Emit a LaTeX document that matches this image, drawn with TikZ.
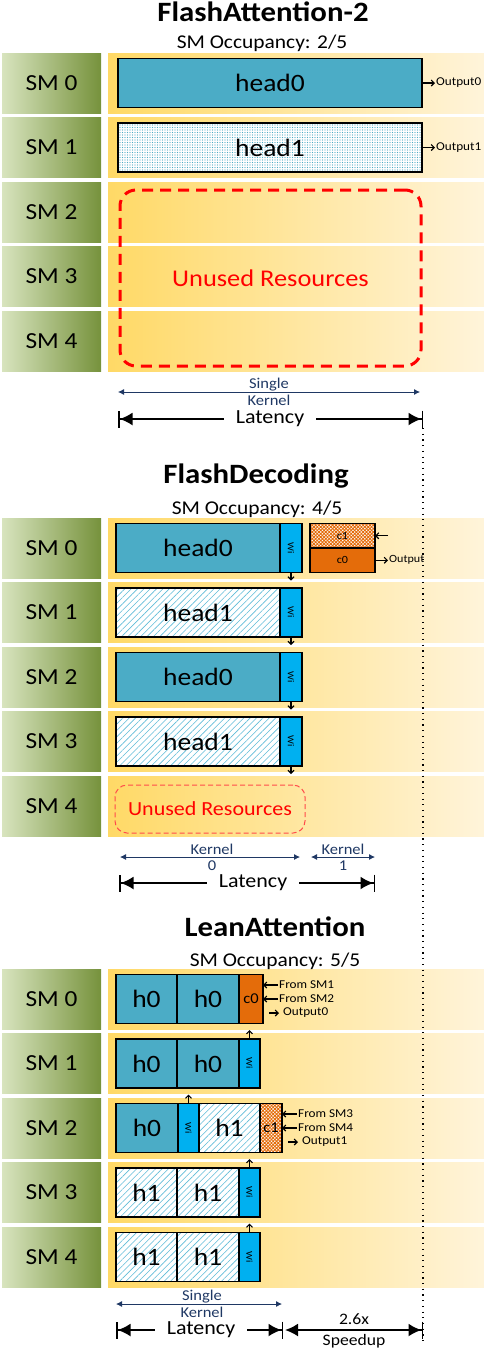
\documentclass[tikz,border=0pt]{standalone}
\usepackage{fontspec}
\setmainfont{Carlito}[FakeStretch=1.1]
\usepackage{graphicx}
\usetikzlibrary{arrows.meta}
\usetikzlibrary{patterns}
\usetikzlibrary{patterns.meta}
\usetikzlibrary{positioning}

\definecolor{headblue}{HTML}{4BACC6}
\definecolor{hatchblue}{HTML}{5FBCD8}
\definecolor{wblue}{HTML}{00B0F0}
\definecolor{corange}{HTML}{E46C0A}
\definecolor{smlight}{HTML}{D8E4BE}
\definecolor{smdark}{HTML}{76923C}
\definecolor{bandl}{HTML}{FFD966}
\definecolor{bandr}{HTML}{FFF4DA}
\definecolor{dimnavy}{HTML}{1F3864}
\definecolor{unusedred}{HTML}{FF0000}
\definecolor{unusedlight}{HTML}{FF4B4B}

\newcommand{\fsz}[1]{\fontsize{#1}{#1}\selectfont}
\newcommand{\wlbl}{\rotatebox{-90}{Wi}}

\tikzset{
  smlabel/.style={anchor=north west,minimum width=99pt,minimum height=60pt,inner sep=0pt,outer sep=0pt,
    left color=smlight,right color=smdark,font=\fsz{23}},
  blk/.style={anchor=west,draw=black,line width=1.5pt,minimum height=49pt,inner sep=0pt,outer sep=0pt},
  headblk/.style={blk,fill=headblue,font=\fsz{25}},
  dotblk/.style={blk,preaction={fill=white},pattern={Dots[distance=2.5pt,radius=0.7pt]},
    pattern color=headblue,font=\fsz{25}},
  hatchblk/.style={blk,preaction={fill=white},pattern={Lines[angle=45,distance=4.5pt,line width=0.6pt]},
    pattern color=hatchblue,font=\fsz{25}},
  wblk/.style={blk,fill=wblue,minimum width=22pt,font=\fsz{9}},
  cblk/.style={blk,fill=corange,font=\fsz{15}},
  chkblk/.style={blk,preaction={fill=white},pattern={Hatch[angle=45,distance=2.4pt,line width=0.9pt]},
    pattern color=corange,font=\fsz{15}},
  unusedbig/.style={draw=unusedred,line width=3pt,dash pattern=on 11pt off 7pt,rounded corners=16pt,
    text=unusedred,font=\fsz{24},inner sep=0pt},
  unusedsmall/.style={draw=unusedlight,line width=1pt,dash pattern=on 5pt off 3pt,rounded corners=12pt,
    text=unusedred,font=\fsz{20},inner sep=0pt},
  titlelbl/.style={anchor=base,font=\bfseries\fsz{28},inner sep=0pt},
  occlbl/.style={anchor=base,font=\fsz{19.5},inner sep=0pt},
  outlbl/.style={inner sep=1pt,font=\fsz{12}},
  fromlbl/.style={anchor=west,inner sep=1pt,font=\fsz{12}},
  outarrow/.style={-{Straight Barb[length=3pt,width=6pt]},line width=1.1pt},
  dimarrow/.style={{Latex[length=6pt,width=6pt]}-{Latex[length=6pt,width=6pt]},draw=dimnavy,line width=0.8pt},
  dimlbl/.style={align=center,text=dimnavy,font=\fontsize{15}{17}\selectfont,inner sep=0pt},
  latarrow/.style={{Bar[width=17pt,line width=1.5pt]Latex[length=13pt,width=13pt]}-{Latex[length=13pt,width=13pt]Bar[width=17pt,line width=1.5pt]},line width=2pt},
  latlbl/.style={fill=white,inner xsep=12pt,inner ysep=1pt,font=\fsz{20}},
  dotline/.style={line width=1.2pt,dash pattern=on 1.2pt off 4.5pt}
}

\begin{document}
\begin{tikzpicture}[x=1pt,y=-1pt]
\useasboundingbox (0,0) rectangle (484,1350);

% SM rows of the three schemes
\foreach \sec/\rtop in {fa/53,fd/518,la/969}{
  \foreach \i in {0,...,4}{
    \fill[left color=bandl,right color=bandr] (108,\rtop+64.5*\i) rectangle (484,\rtop+64.5*\i+60);
    \node[smlabel] (\sec-sm\i) at (2,\rtop+64.5*\i) {SM \i};
    \coordinate (\sec-r\i) at (0,\rtop+64.5*\i+30);
  }
}

% common end of the slowest latency
\coordinate (vtop) at (423,428);
\coordinate (vbot) at (423,1345);
\draw[dotline] (vtop) -- (vbot);

% FlashAttention-2
\node[titlelbl] (fa-title) at (263,21.5) {FlashAttention-2};
\node[occlbl] (fa-occ) at (262,48) {SM Occupancy: 2/5};
\node[headblk,minimum width=304pt] (fa-h0) at ([xshift=118pt]fa-r0) {head0};
\node[dotblk,minimum width=304pt] (fa-h1) at ([xshift=118pt]fa-r1) {head1};
\node[outlbl,right=13pt of fa-h0] (fa-o0) {Output0};
\node[outlbl,right=13pt of fa-h1] (fa-o1) {Output1};
\draw[outarrow] (fa-h0) -- (fa-o0);
\draw[outarrow] (fa-h1) -- (fa-o1);
\node[unusedbig,minimum width=301pt,minimum height=176pt] (fa-unused) at (270.5,278) {Unused Resources};

\coordinate (fa-kl) at (118,392);
\coordinate (fa-kr) at (420,392);
\draw[dimarrow] (fa-kl) -- (fa-kr);
\node[dimlbl] (fa-klbl) at (269,392) {Single\\Kernel};
\coordinate (fa-ll) at (118,419);
\coordinate (fa-lr) at (423,419);
\draw[latarrow] (fa-ll) -- (fa-lr);
\node[latlbl] (fa-lat) at (270,419) {Latency};

% FlashDecoding
\node[titlelbl] (fd-title) at (256,483) {FlashDecoding};
\node[occlbl] (fd-occ) at (257,514) {SM Occupancy: 4/5};
\foreach \i/\sty/\txt in {0/headblk/head0,1/hatchblk/head1,2/headblk/head0,3/hatchblk/head1}{
  \node[\sty,minimum width=164pt] (fd-h\i) at ([xshift=116pt]fd-r\i) {\txt};
  \node[wblk,right=0pt of fd-h\i] (fd-w\i) {\wlbl};
  \draw[outarrow] (fd-w\i.south) -- ++(0,8);
}
\node[chkblk,anchor=south west,minimum width=65pt,minimum height=24.5pt,font=\fsz{11}] (fd-c1) at ([xshift=310pt]fd-r0) {c1};
\node[cblk,below=0pt of fd-c1,minimum width=65pt,minimum height=24.5pt,font=\fsz{11}] (fd-c0) {c0};
\coordinate[right=13pt of fd-c1] (fd-cin);
\draw[outarrow] (fd-cin) -- (fd-c1);
\node[outlbl,right=13pt of fd-c0,font=\fsz{11}] (fd-out) {Output};
\draw[outarrow] (fd-c0) -- (fd-out);
\node[unusedsmall,minimum width=190pt,minimum height=48pt] (fd-unused) at (210,809) {Unused Resources};

\coordinate (fd-k0l) at (120,857);
\coordinate (fd-k0r) at (300,857);
\draw[dimarrow] (fd-k0l) -- (fd-k0r);
\node[dimlbl,font=\fontsize{15}{16}\selectfont] (fd-k0lbl) at (212,857) {Kernel\\0};
\coordinate (fd-k1l) at (311,857);
\coordinate (fd-k1r) at (375,857);
\draw[dimarrow] (fd-k1l) -- (fd-k1r);
\node[dimlbl,font=\fontsize{15}{16}\selectfont] (fd-k1lbl) at (343,857) {Kernel\\1};
\coordinate (fd-ll) at (119,883);
\coordinate (fd-lr) at (375,883);
\draw[latarrow] (fd-ll) -- (fd-lr);
\node[latlbl] (fd-lat) at (253,883) {Latency};

% LeanAttention
\node[titlelbl] (la-title) at (275,936) {LeanAttention};
\node[occlbl] (la-occ) at (275,966) {SM Occupancy: 5/5};
\node[headblk,minimum width=61pt] (la-a0) at ([xshift=116pt]la-r0) {h0};
\node[headblk,minimum width=62pt,right=0pt of la-a0] (la-b0) {h0};
\node[cblk,minimum width=24pt,right=0pt of la-b0] (la-c0) {c0};
\foreach \i/\sty/\txt in {1/headblk/h0,3/hatchblk/h1,4/hatchblk/h1}{
  \node[\sty,minimum width=61pt] (la-a\i) at ([xshift=116pt]la-r\i) {\txt};
  \node[\sty,minimum width=62pt,right=0pt of la-a\i] (la-b\i) {\txt};
  \node[wblk,minimum width=21pt,right=0pt of la-b\i] (la-w\i) {\wlbl};
  \draw[outarrow] (la-w\i.north) -- ++(0,-9);
}
\node[headblk,minimum width=62pt] (la-a2) at ([xshift=116pt]la-r2) {h0};
\node[wblk,minimum width=21pt,right=0pt of la-a2] (la-w2) {\wlbl};
\node[hatchblk,minimum width=61pt,right=0pt of la-w2] (la-b2) {h1};
\node[chkblk,minimum width=22pt,right=0pt of la-b2] (la-c2) {c1};
\draw[outarrow] (la-w2.north) -- ++(0,-9);

\node[fromlbl] (la-f1) at ([xshift=15pt,yshift=14pt]la-c0.east) {From SM1};
\node[fromlbl] (la-f2) at ([xshift=15pt]la-c0.east) {From SM2};
\node[fromlbl] (la-o0) at ([xshift=19pt,yshift=-14pt]la-c0.east) {Output0};
\draw[outarrow] (la-f1.west) -- (la-f1.west -| la-c0.east);
\draw[outarrow] (la-f2.west) -- (la-f2.west -| la-c0.east);
\draw[outarrow,shorten <=6pt,shorten >=3pt] (la-o0.west -| la-c0.east) -- (la-o0.west);
\node[fromlbl] (la-f3) at ([xshift=15pt,yshift=14pt]la-c2.east) {From SM3};
\node[fromlbl] (la-f4) at ([xshift=15pt]la-c2.east) {From SM4};
\node[fromlbl] (la-o1) at ([xshift=19pt,yshift=-14pt]la-c2.east) {Output1};
\draw[outarrow] (la-f3.west) -- (la-f3.west -| la-c2.east);
\draw[outarrow] (la-f4.west) -- (la-f4.west -| la-c2.east);
\draw[outarrow,shorten <=6pt,shorten >=3pt] (la-o1.west -| la-c2.east) -- (la-o1.west);

\coordinate (la-kl) at (116,1304);
\coordinate (la-kr) at (282,1304);
\draw[dimarrow] (la-kl) -- (la-kr);
\node[dimlbl] (la-klbl) at (202,1304) {Single\\Kernel};
\coordinate (la-ll) at (116,1330);
\coordinate (la-lr) at (283,1330);
\draw[latarrow] (la-ll) -- (la-lr);
\node[latlbl] (la-lat) at (201,1330) {Latency};
\coordinate (la-sl) at (285,1330);
\coordinate (la-sr) at (423,1330);
\draw[{Latex[length=13pt,width=13pt]}-{Latex[length=13pt,width=13pt]Bar[width=17pt,line width=1.5pt]},line width=2pt] (la-sl) -- (la-sr);
\node[align=center,font=\fontsize{16}{21}\selectfont,inner sep=0pt] (la-speed) at (354,1331) {2.6x\\Speedup};
\end{tikzpicture}
\end{document}
